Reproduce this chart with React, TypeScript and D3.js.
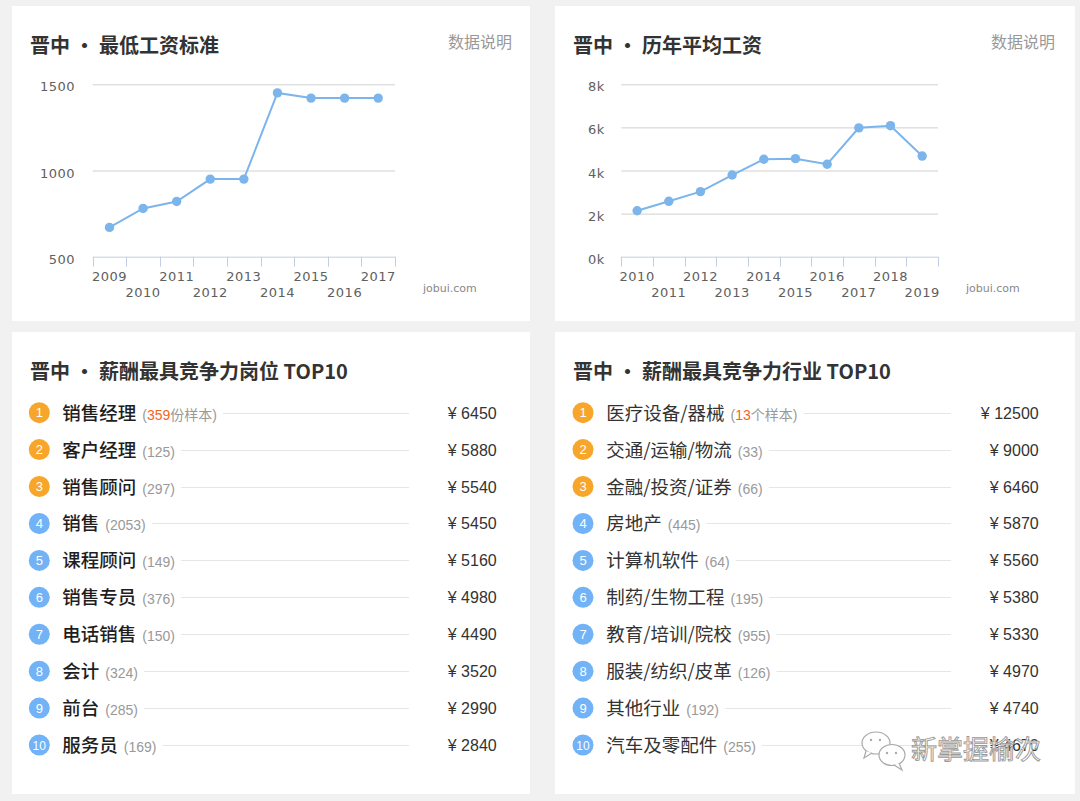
import React, { useRef, useEffect } from 'react'
import * as d3 from 'd3'

// 最低工资标准
const minWageYears = ['2009', '2010', '2011', '2012', '2013', '2014', '2015', '2016', '2017']
const minWageValues = [670, 780, 820, 950, 950, 1450, 1420, 1420, 1420]
const minWageTicks = [500, 1000, 1500]

// 历年平均工资
const avgWageYears = ['2010', '2011', '2012', '2013', '2014', '2015', '2016', '2017', '2018', '2019']
const avgWageValues = [2130, 2570, 3020, 3790, 4520, 4550, 4290, 5980, 6080, 4670]
const avgWageTicks = [0, 2000, 4000, 6000, 8000]

// 岗位 TOP10
const jobNames = ['销售经理', '客户经理', '销售顾问', '销售', '课程顾问', '销售专员', '电话销售', '会计', '前台', '服务员']
const jobCounts = [359, 125, 297, 2053, 149, 376, 150, 324, 285, 169]
const jobSalaries = [6450, 5880, 5540, 5450, 5160, 4980, 4490, 3520, 2990, 2840]

// 行业 TOP10
const industryNames = ['医疗设备/器械', '交通/运输/物流', '金融/投资/证券', '房地产', '计算机软件', '制药/生物工程', '教育/培训/院校', '服装/纺织/皮革', '其他行业', '汽车及零配件']
const industryCounts = [13, 33, 66, 445, 64, 195, 955, 126, 192, 255]
const industrySalaries = [12500, 9000, 6460, 5870, 5560, 5380, 5330, 4970, 4740, 4670]

const W = 1080
const H = 801
const CJK = '"Noto Sans CJK SC", "Noto Sans", sans-serif'
const AXIS_FONT = '"DejaVu Sans", Verdana, sans-serif'
const NUM_FONT = '"Liberation Sans", Arial, sans-serif'
const LINE_COLOR = '#7cb5ec'

type Sel = d3.Selection<SVGGElement, unknown, null, undefined>

function drawPanelHeader(g: Sel, x: number, w: number, title: string, note: boolean) {
  g.append('text')
    .attr('x', x + 18)
    .attr('y', 53)
    .style('font-family', CJK)
    .style('font-size', '20px')
    .style('font-weight', 'bold')
    .attr('fill', '#333')
    .text(title)
  if (note) {
    g.append('text')
      .attr('x', x + w - 18)
      .attr('y', 48)
      .attr('text-anchor', 'end')
      .style('font-family', CJK)
      .style('font-size', '16px')
      .attr('fill', '#999')
      .text('数据说明')
  }
}

function drawLineChart(
  g: Sel,
  years: string[],
  values: number[],
  ticks: number[],
  x0: number,
  x1: number,
  fmt: (v: number) => string,
  labelRight: number,
  brand: number
) {
  const yTop = 84.3
  const yBottom = 256.7
  const x = d3.scaleBand<string>().domain(years).range([x0, x1])
  const y = d3.scaleLinear().domain(d3.extent(ticks) as [number, number]).range([yBottom, yTop])

  // grid lines
  g.selectAll('line.grid')
    .data(ticks.slice(1))
    .join('line')
    .attr('class', 'grid')
    .attr('x1', x0)
    .attr('x2', x1)
    .attr('y1', d => y(d) + 0.5)
    .attr('y2', d => y(d) + 0.5)
    .attr('stroke', '#d0d0d0')
    .attr('stroke-width', 1)

  // y labels
  g.selectAll('text.ylab')
    .data(ticks)
    .join('text')
    .attr('class', 'ylab')
    .attr('x', labelRight)
    .attr('y', d => y(d) + 7)
    .attr('text-anchor', 'end')
    .style('font-family', AXIS_FONT)
    .style('font-size', '13px')
    .style('letter-spacing', '0.5px')
    .attr('fill', '#606060')
    .text(d => fmt(d))

  // x axis line + ticks
  g.append('line')
    .attr('x1', x0)
    .attr('x2', x1)
    .attr('y1', yBottom + 0.5)
    .attr('y2', yBottom + 0.5)
    .attr('stroke', '#c0d0e0')
  const tickPos = years.map(d => x(d) as number).concat([x1])
  g.selectAll('line.xtick')
    .data(tickPos)
    .join('line')
    .attr('class', 'xtick')
    .attr('x1', d => Math.round(d) + 0.5)
    .attr('x2', d => Math.round(d) + 0.5)
    .attr('y1', yBottom)
    .attr('y2', yBottom + 10)
    .attr('stroke', '#c0d0e0')

  // x labels, staggered
  g.selectAll('text.xlab')
    .data(years)
    .join('text')
    .attr('class', 'xlab')
    .attr('x', d => (x(d) as number) + x.bandwidth() / 2)
    .attr('y', (_, i) => (i % 2 === 0 ? 280.5 : 297))
    .attr('text-anchor', 'middle')
    .style('font-family', AXIS_FONT)
    .style('font-size', '13px')
    .style('letter-spacing', '0.5px')
    .attr('fill', '#606060')
    .text(d => d)

  const line = d3.line<number>()
    .x((_, i) => (x(years[i]) as number) + x.bandwidth() / 2)
    .y(d => y(d))

  g.append('path')
    .datum(values)
    .attr('fill', 'none')
    .attr('stroke', LINE_COLOR)
    .attr('stroke-width', 2)
    .attr('d', line)

  g.selectAll('circle.pt')
    .data(values)
    .join('circle')
    .attr('class', 'pt')
    .attr('cx', (_, i) => (x(years[i]) as number) + x.bandwidth() / 2)
    .attr('cy', d => y(d))
    .attr('r', 4.7)
    .attr('fill', LINE_COLOR)

  g.append('text')
    .attr('x', brand)
    .attr('y', 292)
    .style('font-family', AXIS_FONT)
    .style('font-size', '11px')
    .attr('fill', '#888')
    .text('jobui.com')
}

function drawTopList(
  g: Sel,
  names: string[],
  counts: number[],
  salaries: number[],
  circleX: number,
  nameX: number,
  lineEnd: number,
  valueRight: number,
  unit: string,
  nameWeight: string,
  nameColor: string
) {
  const rowY = d3.scaleLinear().domain([0, 9]).range([412.7, 745])
  names.forEach((name, i) => {
    const cy = rowY(i)
    const row = g.append('g')
    row.append('circle')
      .attr('cx', circleX)
      .attr('cy', cy)
      .attr('r', 10.5)
      .attr('fill', i < 3 ? '#f7a629' : '#72b2f6')
    row.append('text')
      .attr('x', circleX)
      .attr('y', cy + 4.5)
      .attr('text-anchor', 'middle')
      .style('font-family', NUM_FONT)
      .style('font-size', i === 9 ? '12px' : '13px')
      .attr('fill', '#fff')
      .text(String(i + 1))
    const label = row.append('text')
      .attr('x', nameX)
      .attr('y', cy + 7)
    label.append('tspan')
      .style('font-family', CJK)
      .style('font-size', '18.5px')
      .style('font-weight', nameWeight)
      .attr('fill', nameColor)
      .text(name)
    const cnt = label.append('tspan')
      .attr('dx', 6)
      .style('font-family', NUM_FONT)
      .style('font-size', '14px')
      .attr('fill', '#999')
    if (i === 0) {
      cnt.append('tspan').text('(')
      cnt.append('tspan').attr('fill', '#f5641e').text(String(counts[i]))
      cnt.append('tspan').style('font-family', CJK).text(unit)
      cnt.append('tspan').text(')')
    } else {
      cnt.text(`(${counts[i]})`)
    }
    const node = label.node() as SVGTextElement
    const textEnd = nameX + node.getComputedTextLength()
    row.append('line')
      .attr('x1', textEnd + 12)
      .attr('x2', lineEnd)
      .attr('y1', Math.round(cy) + 0.5)
      .attr('y2', Math.round(cy) + 0.5)
      .attr('stroke', '#e6e6e6')
    row.append('text')
      .attr('x', valueRight)
      .attr('y', cy + 6)
      .attr('text-anchor', 'end')
      .style('font-family', NUM_FONT)
      .style('font-size', '16px')
      .attr('fill', '#333')
      .text(`¥ ${salaries[i]}`)
  })
}

const App: React.FC = () => {
  const svgRef = useRef<SVGSVGElement | null>(null)

  useEffect(() => {
    if (!svgRef.current) return
    const svg = d3.select(svgRef.current)
    svg.selectAll('*').remove()

    svg.append('rect').attr('width', W).attr('height', H).attr('fill', '#f1f1f1')

    const panels = [
      { x: 12, y: 6, w: 518, h: 315 },
      { x: 555, y: 6, w: 520, h: 315 },
      { x: 12, y: 332, w: 518, h: 462 },
      { x: 555, y: 332, w: 520, h: 462 },
    ]
    svg.selectAll('rect.panel')
      .data(panels)
      .join('rect')
      .attr('class', 'panel')
      .attr('x', d => d.x)
      .attr('y', d => d.y)
      .attr('width', d => d.w)
      .attr('height', d => d.h)
      .attr('fill', '#fff')

    // top left
    const tl = svg.append('g') as unknown as Sel
    drawPanelHeader(tl, 12, 518, '晋中 • 最低工资标准', true)
    drawLineChart(tl, minWageYears, minWageValues, minWageTicks, 92.7, 395, d => String(d), 75, 423)

    // top right
    const tr = svg.append('g') as unknown as Sel
    drawPanelHeader(tr, 555, 518, '晋中 • 历年平均工资', true)
    drawLineChart(tr, avgWageYears, avgWageValues, avgWageTicks, 621.3, 938, d => `${d / 1000}k`, 604.7, 966)

    // bottom left
    const bl = svg.append('g').attr('transform', 'translate(0,326)') as unknown as Sel
    drawPanelHeader(bl, 12, 518, '晋中 • 薪酬最具竞争力岗位 TOP10', false)
    const blList = svg.append('g') as unknown as Sel
    drawTopList(blList, jobNames, jobCounts, jobSalaries, 39.3, 62.3, 409, 496.7, '份样本', '500', '#1e1e1e')

    // bottom right
    const br = svg.append('g').attr('transform', 'translate(0,326)') as unknown as Sel
    drawPanelHeader(br, 555, 518, '晋中 • 薪酬最具竞争力行业 TOP10', false)
    const brList = svg.append('g') as unknown as Sel
    drawTopList(brList, industryNames, industryCounts, industrySalaries, 583, 606.3, 951, 1038.7, '个样本', '400', '#333')

    // watermark (covers part of the last value, as in the source image)
    const wm = svg.append('g')
    wm.append('ellipse').attr('cx', 876).attr('cy', 743).attr('rx', 14).attr('ry', 11)
      .attr('fill', '#fff').attr('stroke', '#aaa').attr('stroke-width', 1.2)
    wm.append('path').attr('d', 'M866,751 L864,758 L872,753').attr('fill', '#fff').attr('stroke', '#aaa').attr('stroke-width', 1.2)
    wm.append('ellipse').attr('cx', 892).attr('cy', 755).attr('rx', 13).attr('ry', 10.5)
      .attr('fill', '#fff').attr('stroke', '#aaa').attr('stroke-width', 1.2)
    wm.append('path').attr('d', 'M899,763 L902,770 L894,765').attr('fill', '#fff').attr('stroke', '#aaa').attr('stroke-width', 1.2)
    ;[[871, 740], [880, 740], [887, 753], [896, 753]].forEach(([cx, cy]) => {
      wm.append('circle').attr('cx', cx).attr('cy', cy).attr('r', 1.2).attr('fill', '#aaa')
    })
    wm.append('text')
      .attr('x', 911)
      .attr('y', 759)
      .style('font-family', CJK)
      .style('font-size', '26px')
      .attr('fill', '#fff')
      .attr('fill-opacity', 0.85)
      .attr('stroke', '#999')
      .attr('stroke-width', 0.9)
      .text('新掌握榆次')
  }, [])

  return (
    <svg
      ref={svgRef}
      width={W}
      height={H}
      style={{ position: 'absolute', left: 0, top: 0, display: 'block' }}
    />
  )
}

export default App
